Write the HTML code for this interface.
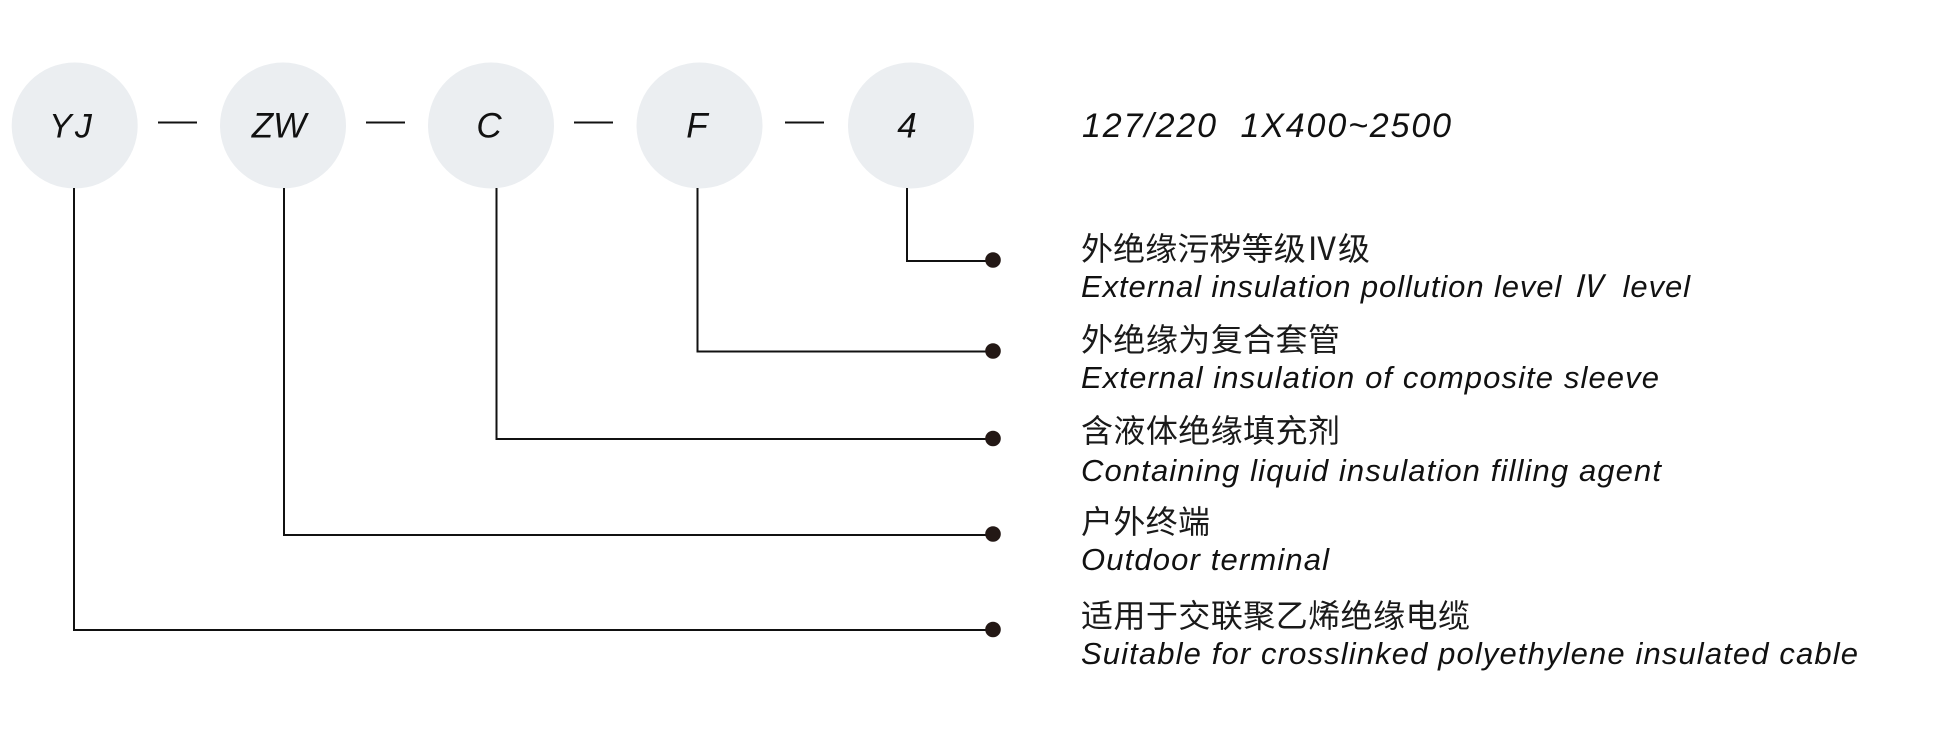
<!DOCTYPE html>
<html>
<head>
<meta charset="utf-8">
<style>
  html,body{margin:0;padding:0;background:#fff;}
  svg{display:block;}
  .lat{font-family:"Liberation Sans","Noto Sans CJK SC",sans-serif;font-style:italic;fill:#111;}
  .cjk{font-family:"Liberation Sans","Noto Sans CJK SC",sans-serif;fill:#1a1a1a;}
</style>
</head>
<body>
<svg width="1957" height="753" viewBox="0 0 1957 753" xmlns="http://www.w3.org/2000/svg">
  <rect width="1957" height="753" fill="#fff"/>
  <!-- circles -->
  <g fill="#ebeef1">
    <circle cx="74.7" cy="125.5" r="63"/>
    <circle cx="283" cy="125.5" r="63"/>
    <circle cx="491" cy="125.5" r="63"/>
    <circle cx="699.5" cy="125.5" r="63"/>
    <circle cx="911" cy="125.5" r="63"/>
  </g>
  <!-- circle labels -->
  <g class="lat" font-size="35" text-anchor="middle">
    <text x="72" y="137.5" letter-spacing="3" font-size="34">YJ</text>
    <text x="279" y="137.5">ZW</text>
    <text x="489" y="137.5">C</text>
    <text x="697" y="137.5">F</text>
    <text x="907" y="137.5">4</text>
  </g>
  <!-- dashes -->
  <g stroke="#111" stroke-width="2">
    <line x1="158" y1="122.5" x2="197" y2="122.5"/>
    <line x1="366" y1="122.5" x2="405" y2="122.5"/>
    <line x1="574" y1="122.5" x2="613" y2="122.5"/>
    <line x1="785" y1="122.5" x2="824" y2="122.5"/>
  </g>
  <!-- connectors -->
  <g stroke="#111" stroke-width="2" fill="none">
    <polyline points="907,188 907,261 992,261"/>
    <polyline points="697.5,188 697.5,351.5 992,351.5"/>
    <polyline points="496.5,188 496.5,439 992,439"/>
    <polyline points="284,188 284,535 992,535"/>
    <polyline points="74,188 74,630 992,630"/>
  </g>
  <g fill="#231815">
    <circle cx="993" cy="260" r="7.8"/>
    <circle cx="993" cy="351" r="7.8"/>
    <circle cx="993" cy="438.5" r="7.8"/>
    <circle cx="993" cy="534" r="7.8"/>
    <circle cx="993" cy="629.5" r="7.8"/>
  </g>
  <!-- top spec text -->
  <text class="lat" x="1082" y="137" font-size="34" textLength="369" lengthAdjust="spacing" xml:space="preserve">127/220  1X400~2500</text>

  <!-- labels -->
  <g>
    <text class="cjk" font-size="32" x="1081" y="260" textLength="289" lengthAdjust="spacing">外绝缘污秽等级Ⅳ级</text>
    <text class="lat" font-size="31" x="1081" y="297" textLength="609" lengthAdjust="spacing" xml:space="preserve">External insulation pollution level Ⅳ  level</text>

    <text class="cjk" font-size="32" x="1081" y="351" textLength="259" lengthAdjust="spacing">外绝缘为复合套管</text>
    <text class="lat" font-size="31" x="1081" y="388" textLength="578" lengthAdjust="spacing">External insulation of composite sleeve</text>

    <text class="cjk" font-size="32" x="1081" y="442" textLength="259" lengthAdjust="spacing">含液体绝缘填充剂</text>
    <text class="lat" font-size="31" x="1081" y="481" textLength="580" lengthAdjust="spacing">Containing liquid insulation filling agent</text>

    <text class="cjk" font-size="32" x="1081" y="533" textLength="129" lengthAdjust="spacing">户外终端</text>
    <text class="lat" font-size="31" x="1081" y="570" textLength="248" lengthAdjust="spacing">Outdoor terminal</text>

    <text class="cjk" font-size="32" x="1081" y="627" textLength="389" lengthAdjust="spacing">适用于交联聚乙烯绝缘电缆</text>
    <text class="lat" font-size="31" x="1081" y="664" textLength="777" lengthAdjust="spacing">Suitable for crosslinked polyethylene insulated cable</text>
  </g>
</svg>
</body>
</html>
